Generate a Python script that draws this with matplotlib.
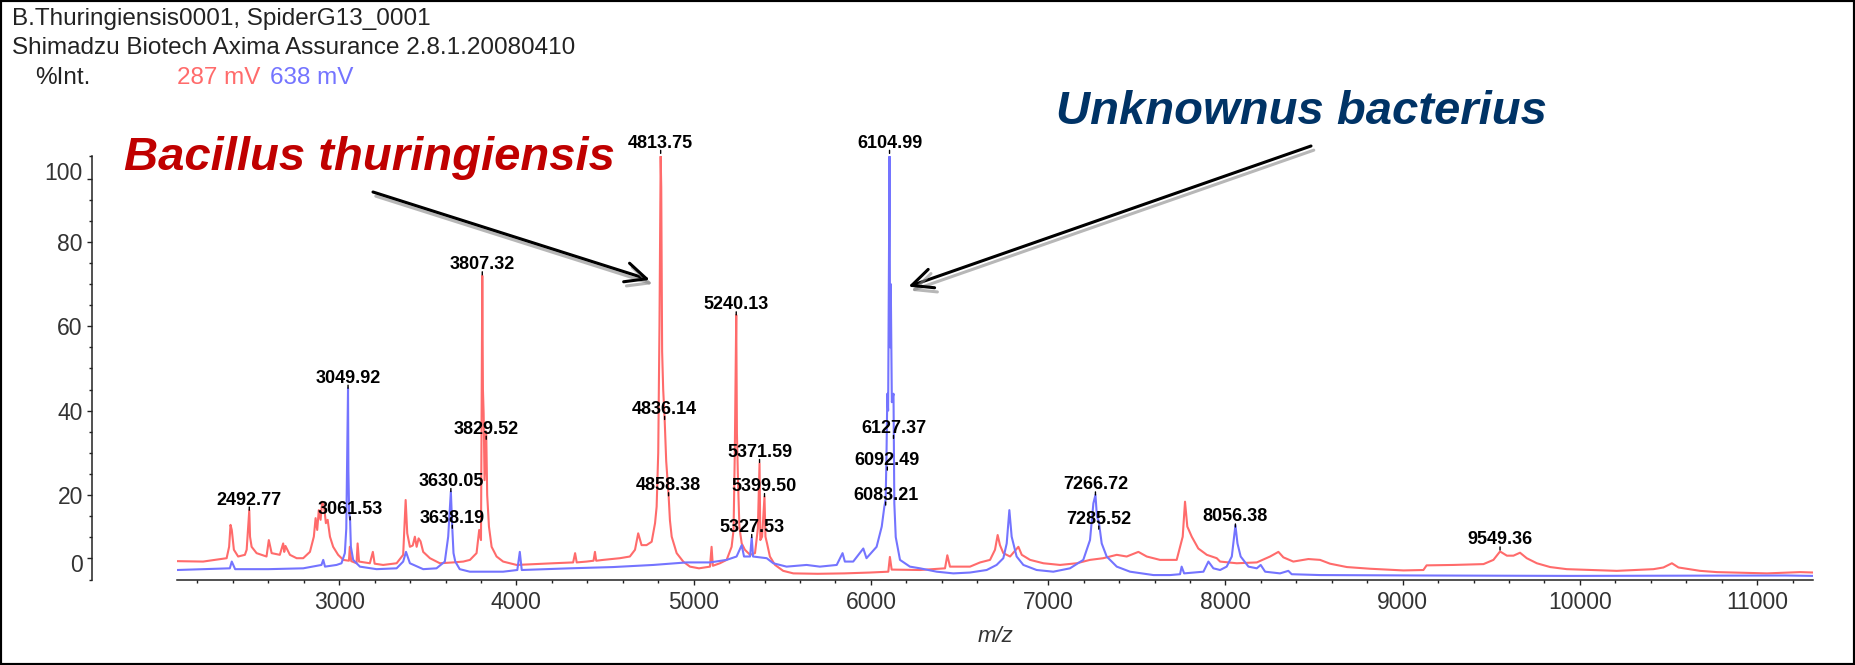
import matplotlib
matplotlib.use("Agg")
import matplotlib.pyplot as plt
import matplotlib.patheffects as pe
from matplotlib.patches import Rectangle
from matplotlib.ticker import FixedLocator, MultipleLocator
from matplotlib.transforms import ScaledTranslation

plt.rcParams["font.family"] = ["Liberation Sans", "DejaVu Sans"]

# red trace (287 mV) - as (m/z, %Int)
red_mz = [2085, 2232, 2365, 2379, 2387, 2394, 2406, 2430, 2468, 2478,
          2492.77, 2497, 2506, 2534, 2590, 2603, 2619, 2665, 2684, 2690,
          2697, 2722, 2760, 2797, 2835, 2857, 2867, 2876, 2885, 2895,
          2904, 2915, 2925, 2935, 2948, 2966, 2994, 3023, 3055, 3060,
          3068, 3098, 3104, 3112, 3173, 3190, 3200, 3248, 3324, 3361,
          3375, 3384, 3399, 3415, 3427, 3437, 3448, 3459, 3474, 3512,
          3568, 3643, 3700, 3738, 3775, 3790, 3800, 3807.32, 3811, 3815,
          3820, 3829.52, 3835, 3845, 3860, 3888, 3925, 4001, 4100, 4208,
          4320, 4331, 4340, 4396, 4435, 4443, 4450, 4490, 4584, 4640,
          4669, 4687, 4706, 4734, 4763, 4782, 4791, 4800, 4807, 4813.75,
          4817, 4822, 4828, 4836.14, 4845, 4852, 4858.38, 4866, 4876, 4904,
          4941, 4979, 5030, 5092, 5101, 5108, 5148, 5186, 5214, 5225,
          5232, 5240.13, 5244, 5250, 5258, 5271, 5289, 5318, 5346, 5362,
          5371.59, 5376, 5386, 5399.50, 5405, 5414, 5430, 5459, 5505, 5562,
          5700, 5850, 5995, 6098, 6107, 6117, 6277, 6418, 6431, 6446,
          6559, 6616, 6672, 6700, 6715, 6728, 6747, 6785, 6832, 6851,
          6898, 6973, 7067, 7161, 7236, 7311, 7387, 7443, 7509, 7556,
          7631, 7725, 7759, 7772, 7785, 7810, 7847, 7895, 7951, 7970,
          8064, 8177, 8252, 8299, 8327, 8383, 8468, 8534, 8590, 8685,
          8816, 9004, 9117, 9135, 9286, 9456, 9512, 9549.36, 9588, 9625,
          9662, 9700, 9757, 9832, 9926, 10208, 10415, 10471, 10519, 10556,
          10678, 10773, 11055, 11243, 11318]
red_int = [4.3, 4.2, 5.0, 7.7, 12.9, 11.7, 7.0, 5.4, 5.8, 7.0,
           16.4, 10.1, 7.7, 6.2, 5.4, 9.3, 6.2, 5.8, 8.5, 6.5,
           7.9, 5.8, 5.0, 5.0, 6.5, 10.1, 14.5, 11.7, 16.4, 14.1,
           18.4, 17.2, 13.3, 14.1, 10.1, 7.7, 5.8, 4.6, 4.4, 7.7,
           4.3, 3.8, 8.5, 4.2, 3.8, 6.5, 3.7, 3.4, 3.8, 5.8,
           18.8, 10.9, 7.7, 8.0, 10.1, 7.7, 9.7, 9.0, 6.5, 5.0,
           3.8, 4.0, 4.2, 4.6, 6.2, 11.7, 9.3, 72.0, 45.0, 39.4,
           23.5, 35.0, 20.0, 12.5, 7.7, 5.4, 4.2, 3.4, 3.6, 3.8,
           4.0, 6.2, 4.0, 4.2, 4.4, 6.5, 4.4, 4.6, 5.0, 5.4,
           7.0, 10.9, 8.1, 8.1, 8.9, 13.3, 17.2, 30.0, 60.0, 100.3,
           93.0, 54.0, 45.0, 38.0, 28.0, 24.0, 20.0, 14.0, 10.1, 6.2,
           4.2, 3.0, 2.6, 3.0, 7.7, 3.2, 3.8, 4.6, 7.7, 11.7,
           30.0, 62.7, 34.6, 23.5, 12.3, 8.5, 7.0, 5.8, 6.2, 12.0,
           27.5, 9.3, 10.1, 19.6, 10.1, 8.5, 5.4, 3.4, 2.0, 1.4,
           1.3, 1.4, 1.6, 1.8, 5.3, 2.3, 2.2, 2.6, 5.7, 3.0,
           3.0, 4.0, 4.6, 7.0, 10.5, 8.1, 6.2, 5.4, 7.7, 5.8,
           4.6, 3.8, 3.4, 3.8, 4.6, 5.0, 5.8, 5.4, 6.5, 5.4,
           4.6, 4.6, 10.1, 18.4, 12.5, 10.1, 7.3, 5.8, 5.0, 4.2,
           3.8, 4.0, 5.4, 6.5, 5.2, 4.2, 4.8, 4.6, 3.7, 2.9,
           2.5, 2.1, 2.2, 3.3, 3.4, 3.6, 4.6, 6.6, 5.6, 5.6,
           6.3, 5.0, 3.8, 2.9, 2.4, 2.0, 2.4, 2.8, 3.8, 2.8,
           2.0, 1.7, 1.4, 1.7, 1.6]

# blue trace (638 mV)
blue_mz = [2085, 2383, 2394, 2413, 2600, 2797, 2900, 2910, 2920, 2985,
           3013, 3032, 3040, 3049.92, 3052, 3056, 3061.53, 3066, 3079, 3117,
           3211, 3324, 3361, 3377, 3399, 3474, 3549, 3596, 3615, 3630.05,
           3638.19, 3645, 3655, 3680, 3737, 3925, 4005, 4019, 4030, 4301,
           4546, 4772, 4960, 5092, 5186, 5242, 5271, 5284, 5318, 5327.53,
           5335, 5412, 5449, 5524, 5637, 5712, 5807, 5840, 5853, 5900,
           5957, 5975, 6032, 6061, 6075, 6083.21, 6088, 6092.49, 6097, 6104.99,
           6108, 6112, 6118, 6127.37, 6132, 6140, 6164, 6220, 6277, 6371,
           6465, 6559, 6653, 6709, 6747, 6766, 6781, 6794, 6822, 6860,
           6935, 7029, 7123, 7198, 7236, 7255, 7266.72, 7275, 7285.52, 7302,
           7330, 7387, 7462, 7594, 7688, 7744, 7753, 7767, 7876, 7904,
           7932, 7970, 8007, 8036, 8056.38, 8068, 8086, 8130, 8177, 8199,
           8224, 8308, 8355, 8374, 8534, 9098, 9945, 11160, 11318]
blue_int = [2.2, 2.6, 4.2, 2.4, 2.4, 2.6, 3.4, 4.6, 3.0, 3.4,
            3.8, 6.2, 12.0, 45.3, 25.8, 16.0, 14.1, 7.7, 4.6, 3.0,
            2.4, 2.6, 4.2, 6.5, 3.8, 2.4, 2.6, 4.2, 10.1, 20.8,
            12.1, 6.2, 4.2, 2.4, 1.8, 1.8, 2.2, 6.5, 2.2, 2.6,
            2.9, 3.4, 4.0, 4.0, 4.6, 5.4, 8.1, 5.4, 5.4, 9.9,
            5.4, 5.0, 3.8, 3.0, 3.4, 3.0, 3.4, 6.2, 4.2, 4.2,
            7.3, 5.0, 7.7, 12.5, 17.0, 19.0, 30.0, 44.0, 40.0, 100.3,
            55.0, 70.0, 42.0, 44.0, 18.0, 10.0, 4.6, 3.0, 2.6, 1.8,
            1.4, 1.6, 2.2, 3.4, 5.0, 8.5, 16.4, 10.1, 5.4, 3.4,
            2.2, 1.8, 2.6, 4.6, 9.3, 18.0, 20.0, 15.0, 13.7, 8.5,
            5.4, 3.0, 1.8, 1.0, 1.0, 1.2, 3.0, 1.4, 1.8, 4.2,
            2.6, 2.2, 3.0, 5.4, 12.8, 8.5, 5.4, 3.0, 2.6, 3.4,
            1.8, 1.4, 2.0, 1.2, 1.0, 0.9, 0.8, 0.9, 0.8]

# labelled peaks and the height where each label's tick sits
red_peaks = [2492.77, 3807.32, 3829.52, 4813.75, 4836.14, 4858.38,
             5240.13, 5371.59, 5399.50, 9549.36]
red_peak_h = [16.4, 72.2, 33.2, 101.0, 37.9, 19.8, 62.7, 27.7, 19.6, 6.95]
blue_peaks = [3049.92, 3061.53, 3630.05, 3638.19, 5327.53, 6104.99,
              6127.37, 6092.49, 6083.21, 7266.72, 7285.52, 8056.38]
blue_peak_h = [45.3, 14.1, 20.8, 12.1, 9.9, 101.0, 33.4, 25.9, 17.6,
               20.0, 11.9, 12.4]

# the software puts its end labels one minor step inside the axis
ytick_pos = [5, 20, 40, 60, 80, 95]
ytick_labels = ["0", "20", "40", "60", "80", "100"]

RED = "#ff6b6b"
BLUE = "#7474ff"
W, H = 1855, 665

fig = plt.figure(figsize=(W / 100, H / 100), dpi=100)
ax = fig.add_axes([177 / W, 1 - 580 / H, (1813 - 177) / W, (580 - 156) / H])

ax.plot(red_mz, red_int, color=RED, lw=1.5, zorder=2)
ax.plot(blue_mz, blue_int, color=BLUE, lw=1.5, zorder=3)

ax.set_xlim(2085, 11315)
ax.set_ylim(-0.17, 100.38)

for sp in ["top", "right"]:
    ax.spines[sp].set_visible(False)
ax.spines["left"].set_position(("outward", 85 * 0.72))
for sp in ["left", "bottom"]:
    ax.spines[sp].set_linewidth(1.1)
    ax.spines[sp].set_color("#222222")

ax.xaxis.set_major_locator(MultipleLocator(1000))
ax.xaxis.set_minor_locator(MultipleLocator(200))
ax.yaxis.set_major_locator(FixedLocator(ytick_pos))
ax.set_yticklabels(ytick_labels)
ax.yaxis.set_minor_locator(FixedLocator([-0.17] + list(range(5, 100, 5)) + [100.38]))

ax.tick_params(axis="both", which="major", direction="out", length=3.6, width=1,
               color="#222222", labelsize=16.5, labelcolor="#333333")
ax.tick_params(axis="both", which="minor", direction="out", length=1.9, width=1,
               color="#222222")
ax.tick_params(axis="y", which="major", pad=3)
ax.tick_params(axis="x", which="major", pad=4.5)

# nudge the end labels like the original software does
yticks = ax.yaxis.get_major_ticks()
lab = yticks[-1].label1
lab.set_transform(lab.get_transform() + ScaledTranslation(0, 0.08, fig.dpi_scale_trans))
lab = yticks[0].label1
lab.set_transform(lab.get_transform() + ScaledTranslation(0, -0.05, fig.dpi_scale_trans))

ax.set_xlabel("m/z", style="italic", fontsize=16, color="#333333")
ax.xaxis.label.set_va("center")
ax.xaxis.set_label_coords(0.5, -0.134)


def label_peaks(mzs, heights):
    for mz, h in zip(mzs, heights):
        ax.annotate(f"{mz:.2f}", xy=(mz, h), xytext=(0, 7.2),
                    textcoords="offset points", ha="center", va="center",
                    fontsize=13, fontweight="bold", color="black",
                    annotation_clip=False, zorder=5)
        ax.annotate("", xy=(mz, h), xytext=(0, 2.2), textcoords="offset points",
                    arrowprops=dict(arrowstyle="-", lw=1, color="black",
                                    shrinkA=0, shrinkB=0),
                    annotation_clip=False)


label_peaks(red_peaks, red_peak_h)
label_peaks(blue_peaks, blue_peak_h)

# header lines
fig.text(12 / W, 1 - 19 / H, "B.Thuringiensis0001, SpiderG13_0001",
         fontsize=17.5, color="#222222", va="center")
fig.text(12 / W, 1 - 48.5 / H, "Shimadzu Biotech Axima Assurance 2.8.1.20080410",
         fontsize=17.5, color="#222222", va="center")
fig.text(35 / W, 1 - 78 / H, "%Int.", fontsize=17.5, color="#222222", va="center")
fig.text(177 / W, 1 - 78 / H, "287 mV", fontsize=17.5, color=RED, va="center")
fig.text(270 / W, 1 - 78 / H, "638 mV", fontsize=17.5, color=BLUE, va="center")

# organism names
fig.text(124 / W, 1 - 170 / H, "Bacillus thuringiensis", fontsize=34,
         fontweight="bold", style="italic", color="#c00000", va="baseline")
fig.text(1056 / W, 1 - 124 / H, "Unknownus bacterius", fontsize=34,
         fontweight="bold", style="italic", color="#003366", va="baseline")

shadow = [pe.SimpleLineShadow(offset=(2, -3), shadow_color="#888888", alpha=0.6),
          pe.Normal()]
arrow = dict(arrowstyle="->,head_length=0.75,head_width=0.35", lw=2.2,
             color="black", shrinkA=0, shrinkB=0, mutation_scale=20)
a1 = ax.annotate("", xy=(4753, 71), xycoords="data",
                 xytext=(373, H - 192), textcoords="figure pixels",
                 arrowprops=arrow, annotation_clip=False)
a1.arrow_patch.set_path_effects(shadow)
a2 = ax.annotate("", xy=(6211, 69.4), xycoords="data",
                 xytext=(1311, H - 146), textcoords="figure pixels",
                 arrowprops=arrow, annotation_clip=False)
a2.arrow_patch.set_path_effects(shadow)

fig.patches.append(Rectangle((0, 0), 1, 1, transform=fig.transFigure, fill=False,
                             lw=3, edgecolor="black"))

fig.savefig("out.png", dpi=100)
